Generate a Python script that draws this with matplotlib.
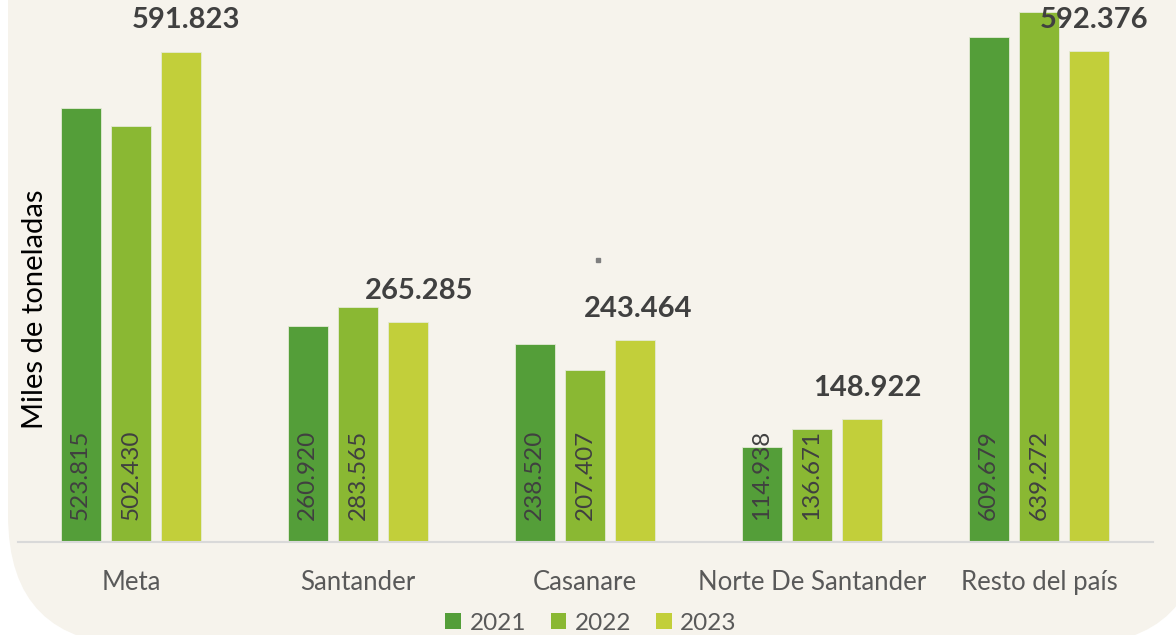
import numpy as np
import matplotlib
matplotlib.use("Agg")
import matplotlib.pyplot as plt
from matplotlib.patches import FancyBboxPatch, Patch

# Data
regions = ["Meta", "Santander", "Casanare", "Norte De Santander", "Resto del país"]
years = ["2021", "2022", "2023"]
v2021 = [523.815, 260.920, 238.520, 114.938, 609.679]
v2022 = [502.430, 283.565, 207.407, 136.671, 639.272]
v2023 = [591.823, 265.285, 243.464, 148.922, 592.376]
colors = ["#549E39", "#8AB833", "#C2CF3A"]
bold_dx = [5, 11, 3, 5, 5]   # nudges of the bold 2023 labels, in pixels

plt.rcParams["font.family"] = ["Lato", "DejaVu Sans"]

W, H = 1176, 635
fig = plt.figure(figsize=(W / 100, H / 100), dpi=100)
fig.patch.set_facecolor("white")

# rounded background card
bg = fig.add_axes([0, 0, 1, 1])
bg.set_xlim(0, W)
bg.set_ylim(H, 0)
bg.axis("off")
bg.add_patch(FancyBboxPatch((8, -200), 1195, 845,
                            boxstyle="round,pad=0,rounding_size=130",
                            facecolor="#F6F3EC", edgecolor="none"))

ax = fig.add_axes([17.5 / W, (H - 542) / H, 1135 / W, 542 / H])
ax.set_facecolor("none")
ax.set_xlim(-0.5, 4.5)
ax.set_ylim(0, 654)

x = np.arange(len(regions))
step = 0.222
width = 0.176
series = [v2021, v2022, v2023]
for i, (vals, col, yr) in enumerate(zip(series, colors, years)):
    xs = x + (i - 1) * step
    ax.bar(xs, vals, width, color=col, edgecolor="#E4EAD6", linewidth=0.6,
           label=yr, zorder=2)
    if i < 2:
        for xi, v in zip(xs, vals):
            ax.annotate(f"{v:.3f}", (xi, 0), xytext=(0, 16),
                        textcoords="offset points", rotation=90,
                        ha="center", va="bottom", fontsize=17.5,
                        color="#404040", zorder=3)
    else:
        for xi, v, dx in zip(xs, vals, bold_dx):
            ax.annotate(f"{v:.3f}", (xi, v), xytext=(dx * 0.72, 13),
                        textcoords="offset points", ha="center",
                        va="bottom", fontsize=21, fontweight="bold",
                        color="#404040", zorder=3)

# stray dot seen in the original
ax.plot([2.057], [340], marker="s", markersize=3.5, color="#7F7F7F",
        linestyle="none")

for s in ["top", "right", "left"]:
    ax.spines[s].set_visible(False)
ax.spines["bottom"].set_color("#D9D9D9")
ax.spines["bottom"].set_linewidth(1.5)
ax.set_yticks([])
ax.set_xticks(x)
ax.set_xticklabels(regions, fontsize=18.5, color="#595959")
ax.tick_params(axis="x", length=0, pad=20)

fig.text(35 / W, 1 - 309 / H, "Miles de toneladas", rotation=90,
         ha="center", va="center", fontsize=21, color="black")

handles = [Patch(facecolor=c, edgecolor="none") for c in colors]
fig.legend(handles, years, loc="center", bbox_to_anchor=(591 / W, 1 - 623 / H),
           ncol=3, frameon=False, fontsize=17.5, labelcolor="#595959",
           handlelength=0.65, handleheight=0.65, handletextpad=0.35,
           columnspacing=1.0, borderpad=0)

fig.savefig("out.png", dpi=100)
